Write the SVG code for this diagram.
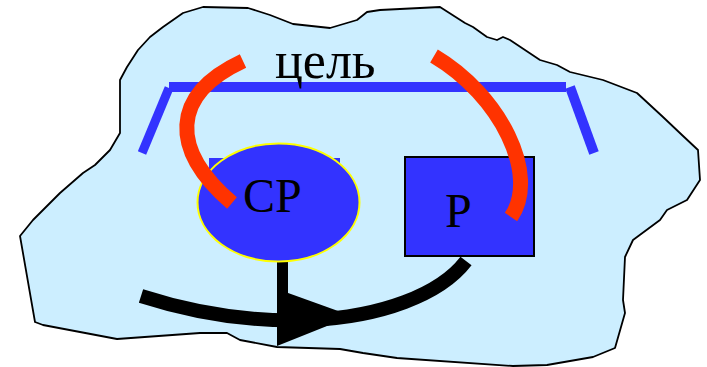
<svg xmlns="http://www.w3.org/2000/svg" width="707" height="367" viewBox="0 0 707 367">
<style>
.lbl{font-family:"Liberation Serif","Times New Roman",serif;fill:#000}
.red{fill:none;stroke:#ff3300;stroke-width:15}
.blue{fill:none;stroke:#3333ff}
.blk{fill:none;stroke:#000}
</style>
<rect width="707" height="367" fill="#fff"/>
<g id="system">
<path d="M20,236 L33,220 L60,193 L83,173 L95,165 L110,150 L120,133 L120,80 L127,67 L138,50 L150,37 L163,27 L183,13 L203,7 L248,8 L270,15 L293,24 L330,28 L357,20 L367,12 L380,10 L440,7 L465,23 L473,27 L487,37 L497,40 L503,37 L510,40 L540,60 L557,65 L570,72 L603,80 L637,93 L663,117 L682,135 L698,150 L700,180 L687,200 L667,210 L660,220 L633,240 L625,257 L623,300 L625,313 L615,348 L593,357 L547,365 L513,366 L397,358 L363,353 L340,349 L277,347 L240,340 L227,333 L200,333 L117,339 L43,325 L35,322 Z" fill="#cceeff" stroke="#000" stroke-width="1.8" stroke-linejoin="round"/>
</g>
<g id="goal">
<line class="blue" x1="169" y1="87" x2="566" y2="87" stroke-width="10"/>
<line class="blue" x1="169" y1="88" x2="142" y2="153" stroke-width="9"/>
<line class="blue" x1="570" y1="87" x2="594" y2="153" stroke-width="10"/>
<text class="lbl" x="275" y="78" font-size="52">цель</text>
</g>
<g id="connectors">
<line class="blk" x1="282.5" y1="260" x2="282.5" y2="300" stroke-width="11"/>
<polygon points="277,289 277,346 352,316" fill="#000"/>
<path class="blk" d="M141,296 C200,315 260,322 310,320 C380,317 440,295 466,261" stroke-width="14"/>
</g>
<g id="CP">
<rect x="209" y="158" width="131" height="76" fill="#3333ff"/>
<ellipse cx="278.5" cy="202.5" rx="81" ry="59" fill="#3333ff" stroke="#ffff00" stroke-width="2"/>
<text class="lbl" x="243" y="212" font-size="48">СР</text>
</g>
<g id="P">
<rect x="405" y="157" width="129" height="99" fill="#3333ff" stroke="#000" stroke-width="2"/>
<text class="lbl" x="445" y="227" font-size="48">Р</text>
</g>
<g id="feedback">
<path class="red" d="M243,61 C170,95 170,150 232,203"/>
<path class="red" d="M434,56 C500,95 540,175 511,217"/>
</g>
</svg>
